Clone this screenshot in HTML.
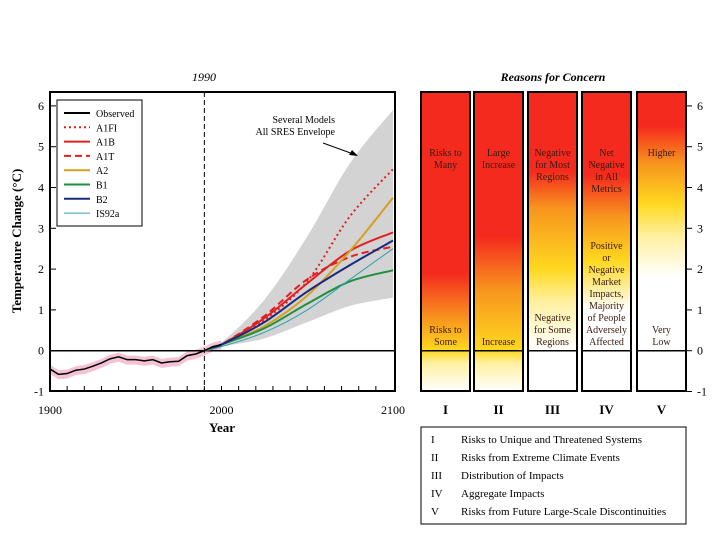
<!DOCTYPE html>
<html><head><meta charset="utf-8"><style>
html,body{margin:0;padding:0;background:#fff}
svg text{font-family:"Liberation Serif",serif}
</style></head><body>
<svg id="c" width="720" height="540" viewBox="0 0 720 540" xmlns="http://www.w3.org/2000/svg">
<defs id="defs"></defs>
<g id="left"></g><g id="right"></g>
</svg>
<script>
const years=[1990,2000,2025,2050,2075,2100];
const envUpper=[0.05,0.2,1.25,2.8,4.6,5.9];
const envLower=[-0.05,0.1,0.3,0.7,1.1,1.3];
const seriesNames=["A1FI","A1B","A1T","A2","B1","B2","IS92a"];
const sA1FI=[0,0.15,0.75,1.7,3.3,4.45];
const sA1B=[0,0.15,0.8,1.65,2.45,2.9];
const sA1T=[0,0.15,0.85,1.75,2.3,2.55];
const sA2=[0,0.15,0.6,1.35,2.45,3.75];
const sB1=[0,0.15,0.55,1.15,1.7,1.97];
const sB2=[0,0.15,0.7,1.45,2.1,2.7];
const sIS92a=[0,0.1,0.45,1.0,1.75,2.5];
const obsYears=[1900,1905,1910,1915,1920,1925,1930,1935,1940,1945,1950,1955,1960,1965,1970,1975,1980,1985,1990,1995,2000];
const obsVals=[-0.45,-0.58,-0.56,-0.48,-0.45,-0.38,-0.3,-0.2,-0.15,-0.22,-0.22,-0.25,-0.22,-0.3,-0.27,-0.26,-0.12,-0.08,0.0,0.1,0.15];
const yTicks=[-1,0,1,2,3,4,5,6];
const xTicks=[1900,2000,2100];
const NS="http://www.w3.org/2000/svg";
const x=v=>50+(v-1900)*1.715;
const y=v=>350.7-v*40.8;
function mk(tag,attrs,parent){const e=document.createElementNS(NS,tag);for(const k in attrs)e.setAttribute(k,attrs[k]);parent.appendChild(e);return e;}
const L=document.getElementById('left'),R=document.getElementById('right'),D=document.getElementById('defs');
function txt(s,a,p){const t=mk('text',a,p);t.textContent=s;return t;}
function spline(P){let d="M"+P[0][0]+","+P[0][1];for(let i=0;i<P.length-1;i++){const p0=P[i-1]||P[i],p1=P[i],p2=P[i+1],p3=P[i+2]||p2;
 const c1=[p1[0]+(p2[0]-p0[0])/6,p1[1]+(p2[1]-p0[1])/6],c2=[p2[0]-(p3[0]-p1[0])/6,p2[1]-(p3[1]-p1[1])/6];
 d+=" C"+c1+" "+c2+" "+p2;}return d;}
const smooth=(xs,ys)=>spline(xs.map((v,i)=>[x(v),y(ys[i])]));
// envelope
let up=spline(years.map((yr,i)=>[x(yr),y(envUpper[i])]));
let lo=years.map((yr,i)=>[x(yr),y(envLower[i])]).reverse();
let env=mk('path',{d:up+" L"+lo[0]+" "+spline(lo).slice(1)+" Z",fill:'#d3d3d3'},L);


// obs band
let bp=obsYears.map((yr,i)=>x(yr)+","+y(obsVals[i]+0.1)).concat(obsYears.map((yr,i)=>x(yr)+","+y(obsVals[i]-0.12)).reverse());
let band=mk('polygon',{points:bp.join(' '),fill:'#f4c2d4'},L);


mk('line',{x1:50,x2:395,y1:y(0),y2:y(0),stroke:'#000','stroke-width':1.5},L);
let dl=mk('line',{x1:x(1990),x2:x(1990),y1:92,y2:391,stroke:'#000','stroke-dasharray':'5,3'},L);


const sData=[sA1FI,sA1B,sA1T,sA2,sB1,sB2,sIS92a];
const sColor=['#e02020','#e02020','#e02020','#d4a020','#1e9040','#1a2a80','#30a0b0'];
const sDash=['2,3','none','7,4','none','none','none','none'];
const sW=[2,2,2,2,2,2,1];
sData.forEach((s,i)=>{
 let p=mk('path',{d:smooth(years,s),fill:'none',stroke:sColor[i],'stroke-width':sW[i],'stroke-dasharray':sDash[i],'stroke-linejoin':'round'},L);
 
 
});
let ob=mk('polyline',{points:obsYears.map((yr,i)=>x(yr)+","+y(obsVals[i])).join(' '),fill:'none',stroke:'#000','stroke-width':1.5},L);


mk('rect',{x:50,y:92,width:345,height:299,fill:'none',stroke:'#000','stroke-width':2},L);
yTicks.forEach(v=>{mk('line',{x1:50,x2:56,y1:y(v),y2:y(v),stroke:'#000'},L);
 let t=txt(String(v),{x:44,y:y(v)+4,'text-anchor':'end','font-size':12},L);
 });
for(let yr=1910;yr<2100;yr+=10){mk('line',{x1:x(yr),x2:x(yr),y1:391,y2:386,stroke:'#000'},L);}
xTicks.forEach(v=>{let t=txt(String(v),{x:x(v),y:414,'text-anchor':'middle','font-size':12},L);
 });
txt('Year',{x:222,y:432,'text-anchor':'middle','font-size':13,'font-weight':'bold'},L);
txt('Temperature Change (°C)',{x:21,y:241,'text-anchor':'middle','font-size':13,'font-weight':'bold',transform:'rotate(-90 21 241)'},L);
txt('1990',{x:204,y:81,'text-anchor':'middle','font-size':12,'font-style':'italic'},L);
txt('Several Models',{x:335,y:123,'text-anchor':'end','font-size':10},L);
txt('All SRES Envelope',{x:335,y:135,'text-anchor':'end','font-size':10},L);
mk('line',{x1:323,y1:143,x2:356,y2:155,stroke:'#000'},L);
mk('polygon',{points:'358,156 349,155 352,150',fill:'#000'},L);
let lg=mk('rect',{x:57,y:100,width:85,height:126,fill:'#fff',stroke:'#000'},L);

const lgNames=['Observed'].concat(seriesNames);
const lgCol=['#000'].concat(sColor),lgDash=['none'].concat(sDash),lgW=[2].concat(sW);
lgNames.forEach((n,i)=>{const yy=113+i*14.3;
 mk('line',{x1:64,x2:90,y1:yy,y2:yy,stroke:lgCol[i],'stroke-width':lgW[i],'stroke-dasharray':lgDash[i]},L);
 let t=txt(n,{x:96,y:yy+4,'font-size':10},L);});
txt('Reasons for Concern',{x:553,y:81,'text-anchor':'middle','font-size':12,'font-weight':'bold','font-style':'italic'},R);
const W='#ffffff',Yl='#ffd820',O='#f7941e',Rd='#f52a1e';
const bars=[
 {x:421,stops:[[-1,W],[-0.3,'#fff0a0'],[0,Yl],[0.8,O],[1.9,Rd],[6.3,Rd]],num:'I',top:['Risks to','Many'],bot:['Risks to','Some']},
 {x:474,stops:[[-1,W],[-0.3,'#fff0a0'],[0,Yl],[1.5,O],[2.8,Rd],[6.3,Rd]],num:'II',top:['Large','Increase'],bot:['Increase']},
 {x:528,stops:[[-1,W],[0,W],[1.2,'#fff0a0'],[2,Yl],[3.5,O],[4.4,Rd],[6.3,Rd]],num:'III',top:['Negative','for Most','Regions'],bot:['Negative','for Some','Regions']},
 {x:582,stops:[[-1,W],[1,W],[2.2,Yl],[3.3,O],[4.3,Rd],[6.3,Rd]],num:'IV',top:['Net','Negative','in All','Metrics'],bot:['Positive','or','Negative','Market','Impacts,','Majority','of People','Adversely','Affected']},
 {x:637,stops:[[-1,W],[1.8,W],[2.8,'#fff0a0'],[3.6,Yl],[4.6,O],[5.5,Rd],[6.3,Rd]],num:'V',top:['Higher'],bot:['Very','Low']}
];
bars.forEach((b,i)=>{
 const g=mk('linearGradient',{id:'g'+i,gradientUnits:'userSpaceOnUse',x1:0,x2:0,y1:391,y2:92},D);
 b.stops.forEach(s=>mk('stop',{offset:(391-y(s[0]))/299,'stop-color':s[1]},g));
 let r=mk('rect',{x:b.x,y:92,width:49,height:299,fill:'url(#g'+i+')',stroke:'#000','stroke-width':2},R);
 
 mk('line',{x1:b.x,x2:b.x+49,y1:y(0),y2:y(0),stroke:'#000','stroke-width':1.5},R);
 const cx=b.x+24.5;
 b.top.forEach((s,j)=>txt(s,{x:cx,y:156+j*12,'text-anchor':'middle','font-size':10,fill:'#3a1a10'},R));
 const n=b.bot.length;
 b.bot.forEach((s,j)=>txt(s,{x:cx,y:345-(n-1-j)*12,'text-anchor':'middle','font-size':10,fill:'#3a1a10'},R));
 let t=txt(b.num,{x:cx,y:414,'text-anchor':'middle','font-size':13,'font-weight':'bold'},R);
 
});
yTicks.forEach(v=>{mk('line',{x1:686,x2:692,y1:y(v),y2:y(v),stroke:'#000'},R);
 let t=txt(String(v),{x:697,y:y(v)+4,'font-size':12},R);});
let kb=mk('rect',{x:421,y:427,width:265,height:97,fill:'#fff',stroke:'#000'},R);

const keyN=['I','II','III','IV','V'];
const keyT=['Risks to Unique and Threatened Systems','Risks from Extreme Climate Events','Distribution of Impacts','Aggregate Impacts','Risks from Future Large-Scale Discontinuities'];
keyN.forEach((k,i)=>{txt(k,{x:431,y:443+i*18,'font-size':11},R);
 let t=txt(keyT[i],{x:461,y:443+i*18,'font-size':11},R);});
</script>
</body></html>
